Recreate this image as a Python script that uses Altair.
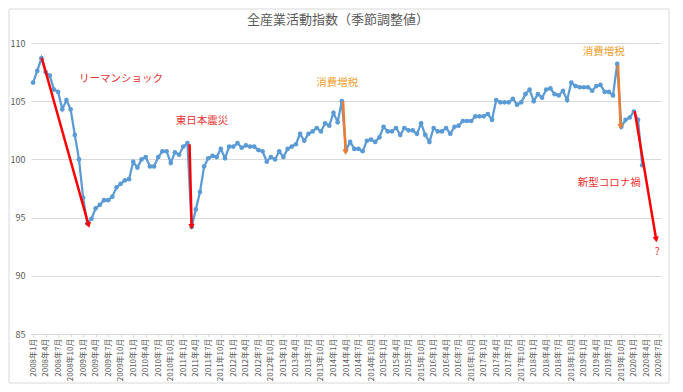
import json, math
import altair as alt
import pandas as pd

# ---- data ----
years = list(range(2008, 2021))
month_labels = [f"{y}年{m}月" for y in years for m in range(1, 13)][:151]  # 2008年1月 .. 2020年7月
tick_labels = month_labels[::3]
title_text = "全産業活動指数（季節調整値）"

values = [
    106.6, 107.6, 108.7, 107.5, 107.2, 106.0, 105.8, 104.3, 105.1, 104.3, 102.1, 100.0,
    96.7, 94.5, 94.9, 95.8, 96.1, 96.5, 96.5, 96.8, 97.6, 97.9, 98.2, 98.3,
    99.8, 99.3, 100.0, 100.2, 99.4, 99.4, 100.2, 100.7, 100.7, 99.7, 100.6, 100.4,
    101.1, 101.4, 94.2, 95.7, 97.2, 99.4, 100.1, 100.3, 100.2, 100.9, 100.1, 101.1,
    101.1, 101.4, 101.0, 101.2, 101.1, 101.1, 100.8, 100.7, 99.8, 100.2, 100.0, 100.7,
    100.2, 100.9, 101.1, 101.3, 102.2, 101.6, 102.2, 102.4, 102.7, 102.4, 103.1, 102.9,
    104.0, 103.2, 105.0, 100.8, 101.5, 100.9, 100.9, 100.7, 101.6, 101.7, 101.5, 101.9,
    102.8, 102.4, 102.4, 102.7, 102.1, 102.7, 102.5, 102.5, 102.2, 103.1, 102.1, 101.5,
    102.7, 102.4, 102.4, 102.7, 102.2, 102.8, 102.9, 103.3, 103.3, 103.3, 103.7, 103.7,
    103.7, 103.9, 103.4, 105.1, 104.9, 104.9, 104.9, 105.2, 104.7, 104.9, 105.6, 106.0,
    105.0, 105.6, 105.3, 106.0, 106.1, 105.6, 105.5, 105.9, 105.1, 106.6, 106.3, 106.2,
    106.2, 106.2, 105.9, 106.3, 106.4, 105.8, 105.8, 105.5, 108.2, 102.8, 103.4, 103.6,
    104.1, 103.4, 99.5,
]

# annotation arrows: start idx/value -> end idx/value
arrow_x1 = [2.08, 37.5, 74.3, 140.2, 144.2]
arrow_y1 = [108.73, 101.3, 105.0, 108.1, 104.15]
arrow_x2 = [13.26, 38.0, 74.9, 140.8, 149.3]
arrow_y2 = [94.42, 94.3, 100.7, 102.9, 93.2]
arrow_colors = ["#FF0000", "#FF0000", "#ED7D31", "#ED7D31", "#FF0000"]

ann_text = ["リーマンショック", "東日本震災", "消費増税", "消費増税", "新型コロナ禍", "?"]
ann_x = [21.1, 40.5, 72.9, 136.8, 138.1, 149.6]
ann_y = [106.87, 103.3, 106.6, 109.24, 97.94, 92.06]
ann_colors = ["#E8312F", "#E8312F", "#F0A030", "#F0A030", "#E8312F", "#E8312F"]

# ---- layout ----
W, H = 630, 291
XMIN, XMAX = -0.5, 150.5
YMIN, YMAX = 85, 110
FONT = "Noto Sans CJK JP"

df = pd.DataFrame({"idx": list(range(len(values))), "month": month_labels[:len(values)], "value": values})

sx = W / (XMAX - XMIN)
sy = H / (YMAX - YMIN)
angles = []
for a, b, c, d in zip(arrow_x1, arrow_y1, arrow_x2, arrow_y2):
    dx = (c - a) * sx
    dy = -(d - b) * sy
    angles.append(math.degrees(math.atan2(dx, -dy)) % 360)

arrows = pd.DataFrame({"x1": arrow_x1, "y1": arrow_y1, "x2": arrow_x2, "y2": arrow_y2,
                       "color": arrow_colors, "ang": angles})
texts = pd.DataFrame({"t": ann_text, "x": ann_x, "y": ann_y, "color": ann_colors})

label_expr = json.dumps(tick_labels, ensure_ascii=False) + "[round(datum.value/3)]"

xscale = alt.Scale(domain=[XMIN, XMAX], nice=False, zero=False)
yscale = alt.Scale(domain=[YMIN, YMAX], nice=False, zero=False)


def x_axis():
    return alt.Axis(values=list(range(0, 151, 3)), labelExpr=label_expr, labelAngle=270,
                    labelOverlap=False, labelFontSize=8, labelColor="#595959", labelFont=FONT,
                    labelPadding=1, grid=False, domainColor="#D9D9D9", tickColor="#D9D9D9",
                    tickSize=3, title=None, labelBound=False, labelFlush=False)


def y_axis():
    return alt.Axis(values=[85, 90, 95, 100, 105, 110], labelFontSize=9, labelColor="#595959",
                    labelFont=FONT, labelPadding=6, grid=True, gridColor="#D9D9D9", domain=False,
                    ticks=False, title=None)


def X(f):
    return alt.X(f, scale=xscale, axis=x_axis())


def Y(f):
    return alt.Y(f, scale=yscale, axis=y_axis())


base = alt.Chart(df)

line = base.mark_line(color="#5B9BD5", strokeWidth=2.25).encode(x=X("idx:Q"), y=Y("value:Q"))
pts = base.mark_circle(color="#5B9BD5", size=22, opacity=1).encode(x=X("idx:Q"), y=Y("value:Q"))

arrow_lines = alt.Chart(arrows).mark_rule(strokeWidth=2.5).encode(
    x=X("x1:Q"), y=Y("y1:Q"), x2="x2:Q", y2="y2:Q",
    color=alt.Color("color:N", scale=None),
)
arrow_heads = alt.Chart(arrows).mark_point(shape="triangle", filled=True, size=40, opacity=1).encode(
    x=X("x2:Q"), y=Y("y2:Q"),
    angle=alt.Angle("ang:Q", scale=None),
    color=alt.Color("color:N", scale=None),
)

labels = alt.Chart(texts).mark_text(font=FONT, fontSize=10.5).encode(
    x=X("x:Q"), y=Y("y:Q"), text="t:N",
    color=alt.Color("color:N", scale=None),
)

one = pd.DataFrame({"t": [title_text]})
frame = alt.Chart(one).mark_rect(fill=None, stroke="#D9D9D9", strokeWidth=1).encode(
    x=alt.value(-22), x2=alt.value(638), y=alt.value(-34), y2=alt.value(340)
)
title = alt.Chart(one).mark_text(font=FONT, fontSize=13, color="#595959", baseline="middle").encode(
    x=alt.value(307), y=alt.value(-23), text="t:N"
)

chart = alt.layer(frame, title, line, pts, arrow_lines, arrow_heads, labels).properties(
    width=W, height=H,
    autosize=alt.AutoSizeParams(type="none"),
    padding={"left": 23, "top": 35, "right": 14, "bottom": 50},
).configure_view(stroke=None)

chart.save("out.html", embed_options={"renderer": "svg", "actions": False})
